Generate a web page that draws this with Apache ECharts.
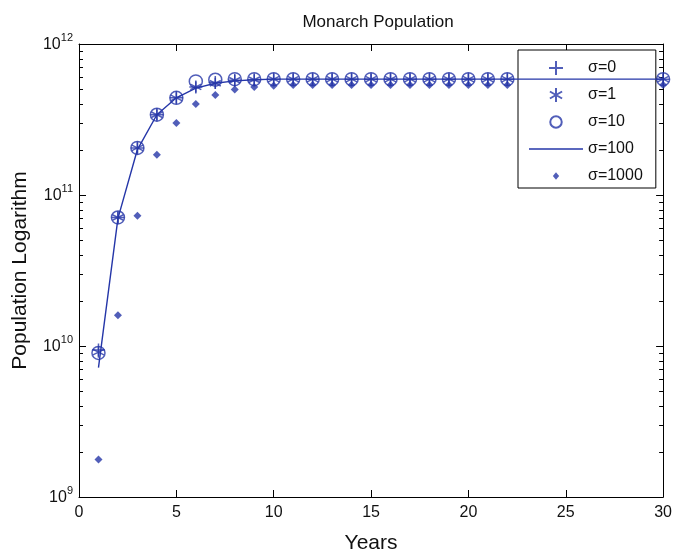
<!DOCTYPE html>
<html>
<head>
<meta charset="utf-8">
<script src="https://cdn.jsdelivr.net/npm/echarts@6/dist/echarts.min.js"></script>
<style>html,body{margin:0;padding:0;background:#fff}#c{width:675px;height:559px}</style>
</head>
<body>
<div id="c"></div>
<script>
var years = [1,2,3,4,5,6,7,8,9,10,11,12,13,14,15,16,17,18,19,20,21,22,23,24,25,26,27,28,29,30];
var sigma0 = [9.4e9,7.1e10,2.05e11,3.4e11,4.4e11,5.2e11,5.55e11,5.75e11,5.8e11,5.85e11,5.85e11,5.85e11,5.85e11,5.85e11,5.85e11,5.85e11,5.85e11,5.85e11,5.85e11,5.85e11,5.85e11,5.85e11,5.85e11,5.85e11,5.85e11,5.85e11,5.85e11,5.85e11,5.85e11,5.85e11];
var sigma1 = [9.1e9,7.1e10,2.05e11,3.4e11,4.4e11,5.2e11,5.5e11,5.75e11,5.8e11,5.85e11,5.85e11,5.85e11,5.85e11,5.85e11,5.85e11,5.85e11,5.85e11,5.85e11,5.85e11,5.85e11,5.85e11,5.85e11,5.85e11,5.85e11,5.85e11,5.85e11,5.85e11,5.85e11,5.85e11,5.85e11];
var sigma10 = [9.0e9,7.1e10,2.05e11,3.4e11,4.4e11,5.65e11,5.8e11,5.85e11,5.85e11,5.85e11,5.85e11,5.85e11,5.85e11,5.85e11,5.85e11,5.85e11,5.85e11,5.85e11,5.85e11,5.85e11,5.85e11,5.85e11,5.85e11,5.85e11,5.85e11,5.85e11,5.85e11,5.85e11,5.85e11,5.85e11];
var sigma100 = [7.2e9,7.0e10,2.0e11,3.4e11,4.4e11,5.1e11,5.5e11,5.7e11,5.8e11,5.85e11,5.85e11,5.85e11,5.85e11,5.85e11,5.85e11,5.85e11,5.85e11,5.85e11,5.85e11,5.85e11,5.85e11,5.85e11,5.85e11,5.85e11,5.85e11,5.85e11,5.85e11,5.85e11,5.85e11,5.85e11];
var sigma1000 = [1.77e9,1.6e10,7.3e10,1.85e11,3.0e11,4.0e11,4.6e11,5.0e11,5.2e11,5.3e11,5.35e11,5.35e11,5.35e11,5.35e11,5.35e11,5.35e11,5.35e11,5.35e11,5.35e11,5.35e11,5.35e11,5.35e11,5.35e11,5.35e11,5.35e11,5.35e11,5.35e11,5.35e11,5.35e11,5.35e11];
var seriesNames = ['\u03c3=0','\u03c3=1','\u03c3=10','\u03c3=100','\u03c3=1000'];
var decades = [1e9, 1e10, 1e11];
var minorMultipliers = [2,3,4,5,6,7,8,9];
var minorTicks = [];
decades.forEach(function(d){ minorMultipliers.forEach(function(k){ minorTicks.push(k*d); }); });

function pairs(arr){ return years.map(function(y,i){ return [y, arr[i]]; }); }

var BLUE = '#2536a8';
var FONT = 'Liberation Sans, Arial, sans-serif';
var PLUS = 'path://M0,-1L0,1M-1,0L1,0';
var STAR = 'path://M0,-1L0,1M-0.87,-0.5L0.87,0.5M-0.87,0.5L0.87,-0.5';
var DIAMOND = 'path://M0,-1L0.8,0L0,1L-0.8,0Z';
var LEG_DIAMOND = 'path://M-1,-1M1,1M0,-0.55L0.45,0L0,0.55L-0.45,0Z';
var LEG_CIRCLE = 'path://M-1,-1M1,1M0.82,0A0.82,0.82,0,1,1,-0.82,0A0.82,0.82,0,1,1,0.82,0Z';
var LEG_LINE = 'path://M0,0M54,14M0,6.35L54,6.35L54,7.65L0,7.65Z';

var chart = echarts.init(document.getElementById('c'), null, {renderer:'canvas'});
var axisLineStyle = {color:'#000', width:1};
function yMajor(pos, labels){
  return {
    type:'log', logBase:10, min:1e9, max:1e12, position:pos,
    axisLine:{show:true, onZero:false, lineStyle:axisLineStyle},
    axisTick:{show:true, inside:true, length:7, lineStyle:axisLineStyle},
    axisLabel: labels ? {
      show:true, margin:6, color:'#111', fontFamily:FONT,
      formatter:function(v){ return '{b|10}{s|' + Math.round(Math.log10(v)) + '}'; },
      rich:{ b:{fontSize:16, fontFamily:FONT, color:'#111', verticalAlign:'bottom', padding:[0,0,3,0]},
             s:{fontSize:11, fontFamily:FONT, color:'#111', verticalAlign:'bottom', padding:[0,0,12,0]} }
    } : {show:false},
    splitLine:{show:false}
  };
}
// minor tick marks (2..9 x 10^n) drawn through the log axis scale
function renderMinorTick(params, api){
  var v = api.value(0);
  var pL = api.coord([0, v]);
  var pR = api.coord([30, v]);
  var st = {stroke:'#000', lineWidth:1};
  var y = Math.round(pL[1]) + 0.5;
  return {type:'group', children:[
    {type:'line', shape:{x1:pL[0], y1:y, x2:pL[0]+4, y2:y}, style:st},
    {type:'line', shape:{x1:pR[0]-4, y1:y, x2:pR[0], y2:y}, style:st}
  ]};
}
var option = {
  backgroundColor:'#fff',
  animation:false,
  title:{text:'Monarch Population', left:373, textAlign:'center', top:9,
    textStyle:{fontSize:17, fontWeight:'normal', color:'#111', fontFamily:FONT}},
  grid:{left:79, right:9, top:44, bottom:56},
  legend:{
    orient:'vertical', left:518, top:50,
    padding:[10,13,4,11], itemGap:11, itemWidth:54, itemHeight:14,
    backgroundColor:'#fff', borderColor:'#000', borderWidth:1,
    textStyle:{fontSize:16, color:'#111', fontFamily:FONT, lineHeight:14},
    data:[
      {name:seriesNames[0]},
      {name:seriesNames[1]},
      {name:seriesNames[2], icon:LEG_CIRCLE},
      {name:seriesNames[3], icon:LEG_LINE, itemStyle:{color:BLUE, borderWidth:0}},
      {name:seriesNames[4], icon:LEG_DIAMOND}
    ]
  },
  xAxis:[
    {type:'value', min:0, max:30, interval:5, position:'bottom',
     axisLine:{onZero:false, lineStyle:axisLineStyle}, axisTick:{inside:true, length:7, lineStyle:axisLineStyle},
     axisLabel:{fontSize:16, color:'#111', fontFamily:FONT, margin:8},
     splitLine:{show:false},
     name:'Years', nameLocation:'middle', nameGap:36,
     nameTextStyle:{fontSize:21, color:'#111', fontFamily:FONT}},
    {type:'value', min:0, max:30, interval:5, position:'top',
     axisLine:{onZero:false, lineStyle:axisLineStyle}, axisTick:{inside:true, length:7, lineStyle:axisLineStyle},
     axisLabel:{show:false}, splitLine:{show:false}}
  ],
  yAxis:[
    Object.assign(yMajor('left', true), {name:'Population Logarithm', nameLocation:'middle', nameGap:48,
      nameTextStyle:{fontSize:21, color:'#111', fontFamily:FONT}}),
    yMajor('right', false)
  ],
  series:[
    {type:'custom', name:'minorTicks', data:minorTicks.map(function(v){ return [v]; }),
     renderItem:renderMinorTick, silent:true, clip:false, z:1,
     encode:{y:0}, tooltip:{show:false}},
    {name:seriesNames[0], type:'scatter', data:pairs(sigma0), symbol:PLUS, symbolSize:13, clip:false,
     itemStyle:{color:'rgba(0,0,0,0)', borderColor:BLUE, borderWidth:1.5}, z:3},
    {name:seriesNames[1], type:'scatter', data:pairs(sigma1), symbol:STAR, symbolSize:11, clip:false,
     itemStyle:{color:'rgba(0,0,0,0)', borderColor:BLUE, borderWidth:1.5}, z:3},
    {name:seriesNames[2], type:'scatter', data:pairs(sigma10), symbol:'circle', symbolSize:13, clip:false,
     itemStyle:{color:'rgba(0,0,0,0)', borderColor:BLUE, borderWidth:1.5}, z:2},
    {name:seriesNames[3], type:'line', data:pairs(sigma100), symbol:'none', clip:false,
     lineStyle:{color:BLUE, width:1.4}, itemStyle:{color:BLUE}, z:4},
    {name:seriesNames[4], type:'scatter', data:pairs(sigma1000), symbol:DIAMOND, symbolSize:8, clip:false,
     itemStyle:{color:BLUE}, z:3}
  ]
};
chart.setOption(option);
</script>
</body>
</html>
